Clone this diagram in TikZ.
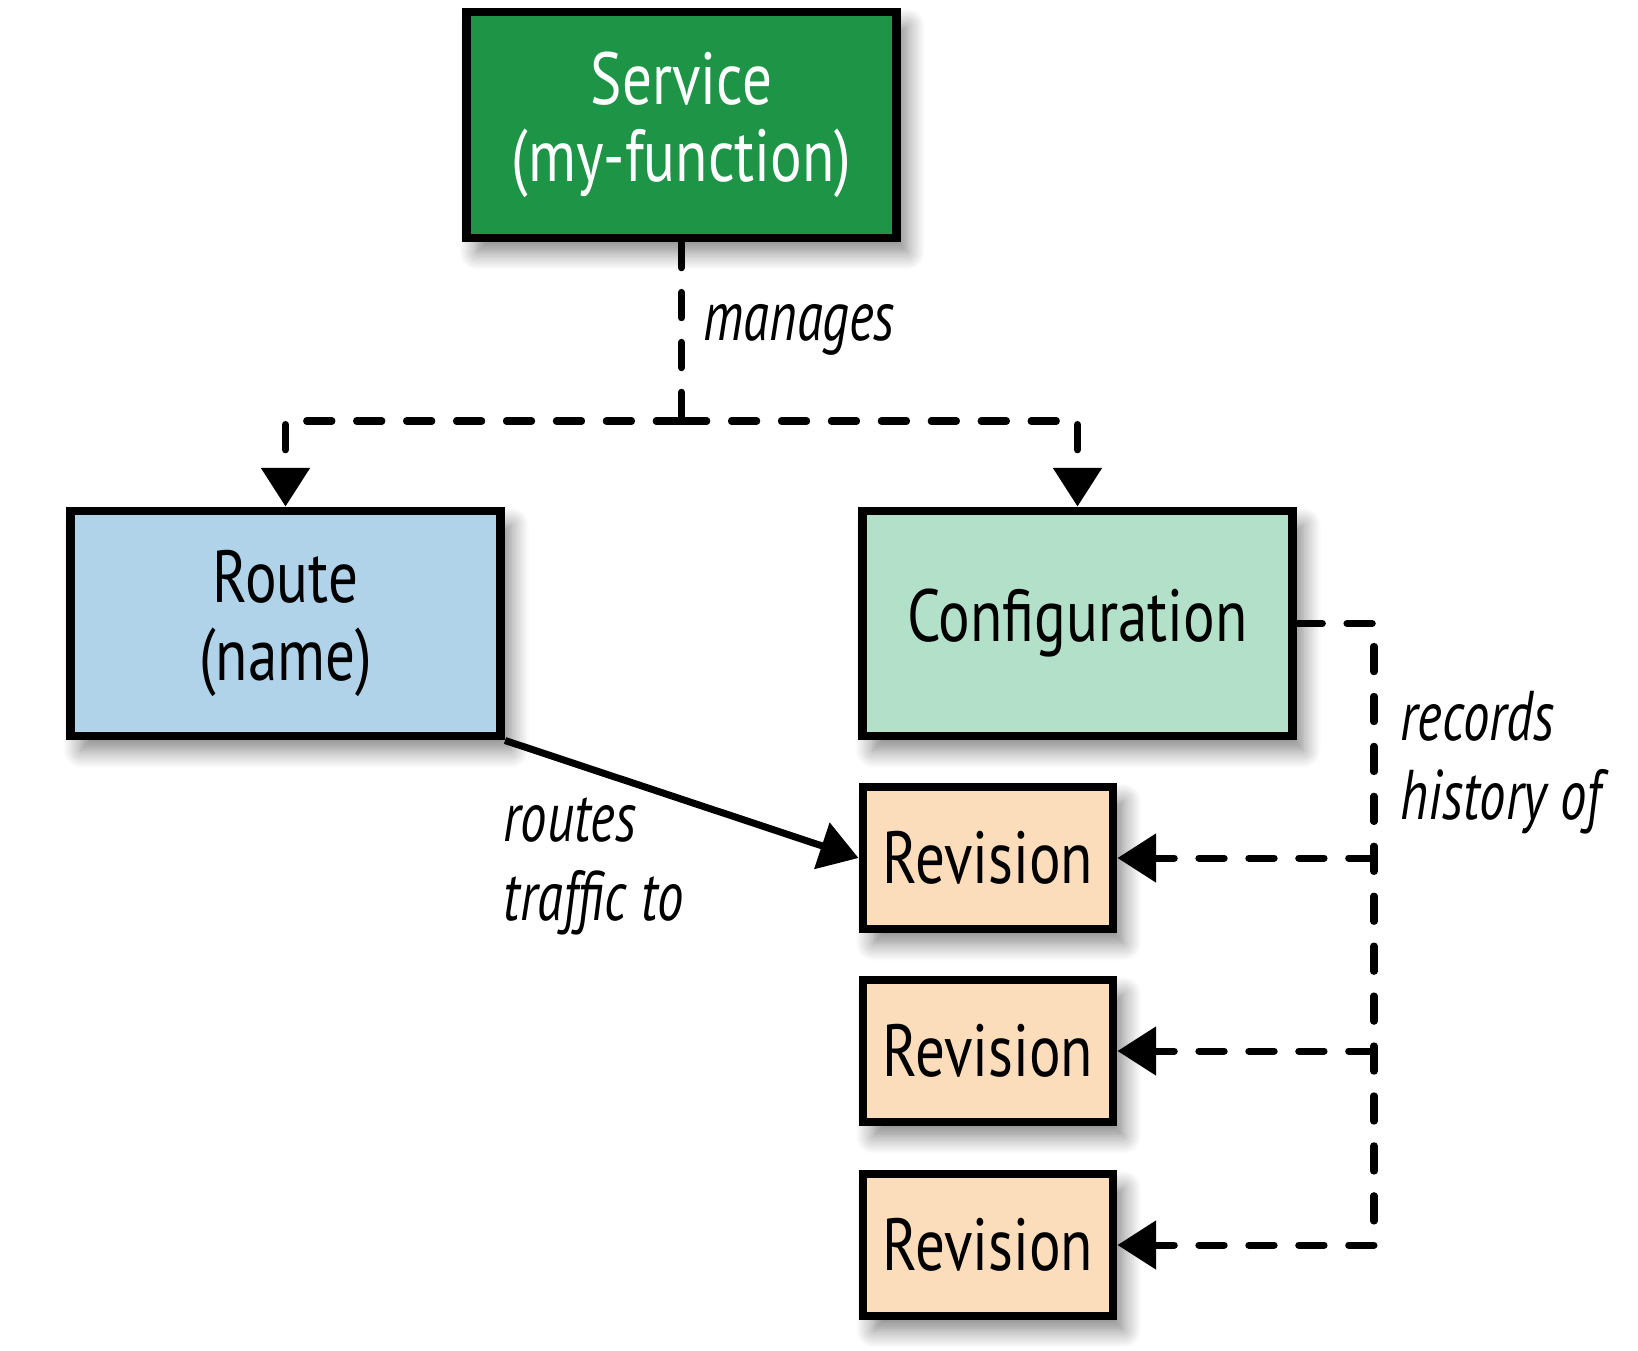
\documentclass[tikz,border=0pt]{standalone}
\usepackage{fontspec}
\setmainfont{PT Sans}[FakeStretch=0.8]
\newfontfamily\lblfont{PT Sans}[FakeStretch=0.75]
\usetikzlibrary{arrows.meta,positioning,shadows.blur}

\definecolor{svcgreen}{RGB}{30,148,71}
\definecolor{routeblue}{RGB}{176,211,234}
\definecolor{confmint}{RGB}{179,224,201}
\definecolor{revpeach}{RGB}{252,221,187}

\begin{document}
\begin{tikzpicture}[x=0.01cm, y=-0.01cm,
  box/.style={draw, line width=2.5pt, rectangle, align=center,
    font=\fontsize{21}{22}\selectfont,
    blur shadow={shadow xshift=3pt, shadow yshift=-4pt, shadow blur steps=10, shadow blur radius=5pt, shadow opacity=50}},
  bigbox/.style={box, minimum width=4.3cm, minimum height=2.25cm},
  revbox/.style={box, fill=revpeach, minimum width=2.5cm, minimum height=1.42cm},
  dashline/.style={line width=2pt, dash pattern=on 7.2pt off 7pt, line cap=round},
  tip/.style={-{Triangle[length=11pt,width=13.5pt]}},
  lbl/.style={font=\fontsize{20}{22.5}\selectfont\lblfont\itshape, align=left, anchor=west, inner sep=0pt}]
\useasboundingbox (0,0) rectangle (1638,1350);

\node[bigbox, fill=svcgreen, text=white, minimum height=2.26cm] (svc) at (681.5,125) {Service\\(my-function)};
\node[bigbox, fill=routeblue] (route) at (285.5,623.5) {Route\\(name)};
\node[bigbox, fill=confmint] (config) at (1077.5,623.5) {Configuration};
\node[revbox] (rev1) at (988,858) {Revision};
\node[revbox] (rev2) at (988,1051) {Revision};
\node[revbox] (rev3) at (988,1245) {Revision};

% manages
\coordinate (hub) at (681.5,421);
\draw[dashline] (svc.south) -- (hub);
\draw[dashline, tip] (hub) -| (route.north);
\draw[dashline, tip] (hub) -| (config.north);
\node[lbl] (manages) at (703,330) {manages};

% routes traffic to
\draw[line width=2pt, tip] (route.south east) -- (rev1.west);
\node[lbl] (routes) at (503,866) {routes\\traffic to};

% records history of
\coordinate (rail) at (1374,1245);
\draw[dashline] (config.east) -| (rail);
\draw[dashline, tip] (rail |- rev1.east) -- (rev1.east);
\draw[dashline, tip] (rail |- rev2.east) -- (rev2.east);
\draw[dashline, tip] (rail) -- (rev3.east);
\node[lbl] (records) at (1400,763) {records\\history of};
\end{tikzpicture}
\end{document}
